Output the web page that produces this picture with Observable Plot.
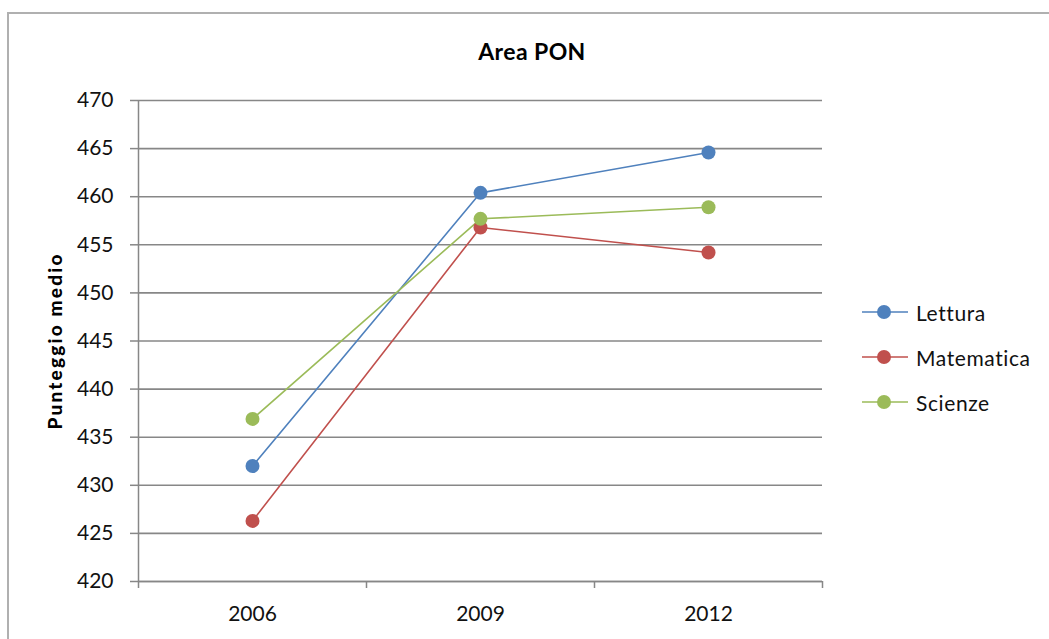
<!DOCTYPE html>
<html><head><meta charset="utf-8">
<script src="https://cdn.jsdelivr.net/npm/d3@7"></script>
<script src="https://cdn.jsdelivr.net/npm/@observablehq/plot@0.6"></script>
<style>
body{margin:0;width:1049px;height:639px;overflow:hidden;background:#fff;font-family:Lato,"Open Sans",sans-serif;}
#frame{position:absolute;left:7px;top:12px;width:1100px;height:700px;border:2.5px solid #b0b0b0;}
#title{position:absolute;left:0;width:1064px;top:37px;text-align:center;font-weight:bold;font-size:23px;letter-spacing:0.4px;color:#000;}
#chart{position:absolute;left:0;top:0;}
.leg{position:absolute;left:860px;height:24px;display:flex;align-items:center;font-size:21px;letter-spacing:0.6px;color:#111;}
.leg svg{margin-right:4px;}
</style></head><body>
<div id="frame"></div><div id="chart"></div><div id="title">Area PON</div><div id="legend"></div>
<script>
const years = ["2006", "2009", "2012"];
const series = ["Lettura", "Matematica", "Scienze"];
const lettura = [432.0, 460.4, 464.6];
const matematica = [426.3, 456.8, 454.2];
const scienze = [436.9, 457.7, 458.9];
const colors = ["#4F81BD", "#C0504D", "#9BBB59"];
const yTicks = [420, 425, 430, 435, 440, 445, 450, 455, 460, 465, 470];
const yLabel = "Punteggio medio";

const values = [lettura, matematica, scienze];
const data = [];
series.forEach((s, si) => years.forEach((y, i) => data.push({series: s, year: y, pos: i + 0.5, value: values[si][i]})));

const gray = "#878787";
const chart = Plot.plot({
  width: 1049, height: 639,
  marginLeft: 138, marginRight: 227, marginTop: 100, marginBottom: 58,
  style: {fontFamily: "Lato, 'Open Sans', sans-serif", fontSize: "21px", color: "#111", background: "transparent"},
  x: {type: "linear", domain: [0, years.length], axis: null},
  y: {domain: [yTicks[0], yTicks[yTicks.length - 1]], axis: null},
  color: {domain: series, range: colors},
  marks: [
    Plot.gridY(yTicks, {stroke: gray, strokeOpacity: 1, strokeWidth: 1.6}),
    Plot.axisY(yTicks, {tickSize: 8, tickPadding: 17, label: null, stroke: gray, strokeWidth: 1.5, tickFormat: d => String(d)}),
    Plot.ruleX([0], {stroke: gray, strokeWidth: 1.5}),
    Plot.ruleY([yTicks[0]], {stroke: gray, strokeWidth: 1.6}),
    Plot.axisX(d3.range(years.length + 1), {tickSize: 7, tickFormat: () => "", label: null, stroke: gray, strokeWidth: 1.5}),
    Plot.axisX(years.map((y, i) => i + 0.5), {tickSize: 0, tickPadding: 25, label: null, tickFormat: d => years[Math.floor(d)]}),
    Plot.line(data, {x: "pos", y: "value", z: "series", stroke: "series", strokeWidth: 1.6}),
    Plot.dot(data, {x: "pos", y: "value", fill: "series", r: 7}),
    Plot.text([yLabel], {frameAnchor: "left", textAnchor: "middle", rotate: -90, dx: -83, fontWeight: "bold", fontSize: 19, fill: "#000"})
  ]
});
d3.select(chart).selectAll("text").filter(function() { return this.textContent === yLabel; }).style("letter-spacing", "2.2px").style("font-weight", "900");
document.getElementById("chart").appendChild(chart);

const legend = document.getElementById("legend");
series.forEach((s, i) => {
  const row = document.createElement("div");
  row.className = "leg";
  row.style.top = (300 + i * 45) + "px";
  row.innerHTML = `<svg width="52" height="24"><line x1="2" x2="48" y1="12" y2="12" stroke="${colors[i]}" stroke-width="1.6"/><circle cx="24" cy="12" r="7" fill="${colors[i]}"/></svg><span>${s}</span>`;
  legend.appendChild(row);
});
</script>
</body></html>
